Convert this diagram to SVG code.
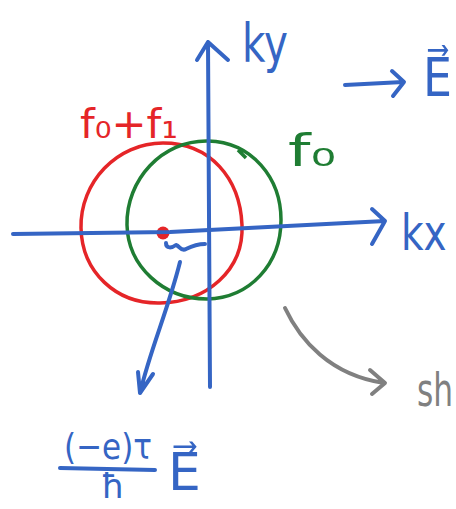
<svg xmlns="http://www.w3.org/2000/svg" width="456" height="509" viewBox="0 0 456 509">
<style>
.b{stroke:#3565c4;fill:none;stroke-width:4;stroke-linecap:round;stroke-linejoin:round}
.g{stroke:#808080;fill:none;stroke-width:4;stroke-linecap:round;stroke-linejoin:round}
.t{font-family:"DejaVu Sans","Liberation Sans",sans-serif}
.tb{fill:#3565c4}
</style>
<rect width="456" height="509" fill="#ffffff"/>
<g id="red-circle"><path d="M163,143 C210,143 240,178 242,225 C244,270 207,302 160,303 C116,304 82,272 81,228 C80,182 117,143 163,143 Z" fill="none" stroke="#e52528" stroke-width="3.5"/></g>
<g id="green-circle"><path d="M208,141 C252,142 281,178 281,220 C281,264 250,298 207,299 C163,299 128,266 127,225 C126,180 162,140 208,141 Z M238,150 L246,158" fill="none" stroke="#1f7d33" stroke-width="3.5"/></g>
<g id="center-dot"><circle cx="163" cy="233" r="6.5" fill="#e52528"/></g>
<g id="connectors">
<path class="b" d="M210,387 L208,42 M197,60 L208,42 L228,60"/>
<path class="b" d="M13,234 L170,232 L385,221 M372,209 L385,221 L372,244"/>
<path class="b" d="M166,243 C166,249 172,248 176,245 C180,246 181,252 186,249 C192,246 198,244 205,244"/>
<path class="b" d="M180,262 C168,310 150,350 140,393 M138,372 L140,393 L153,374"/>
<path class="b" d="M345,85 L403,82 M392,71 L404,82 L393,96"/>
<path class="g" d="M285,308 C300,340 330,375 384,383 M370,370 L385,383 L372,394"/>
</g>
<g id="label-ky"><text class="t tb" x="242" y="62" font-size="54" textLength="46" lengthAdjust="spacingAndGlyphs">ky</text></g>
<g id="label-E"><text class="t tb" transform="translate(423,96) scale(0.85,1)" font-size="54">E⃗</text></g>
<g id="label-kx"><text class="t tb" transform="translate(401,250) scale(0.78,1)" font-size="50">kx</text></g>
<g id="label-f0f1"><text class="t" x="80" y="138" font-size="40" fill="#e52528" textLength="98" lengthAdjust="spacingAndGlyphs">f₀+f₁</text></g>
<g id="label-f0"><text class="t" x="288" y="166" font-size="44" fill="#1f7d33" textLength="48" lengthAdjust="spacingAndGlyphs">f₀</text></g>
<g id="label-shift"><text class="t" transform="translate(417,406) scale(0.68,1)" font-size="46" fill="#808080">sh</text></g>
<g id="label-force">
<text class="t tb" x="64" y="459" font-size="36" textLength="88" lengthAdjust="spacingAndGlyphs">(−e)τ</text>
<path class="b" d="M60,468 L155,470"/>
<text class="t tb" x="101" y="498" font-size="34">ħ</text>
<text class="t tb" x="168" y="490" font-size="52">E⃗</text>
</g>
</svg>
